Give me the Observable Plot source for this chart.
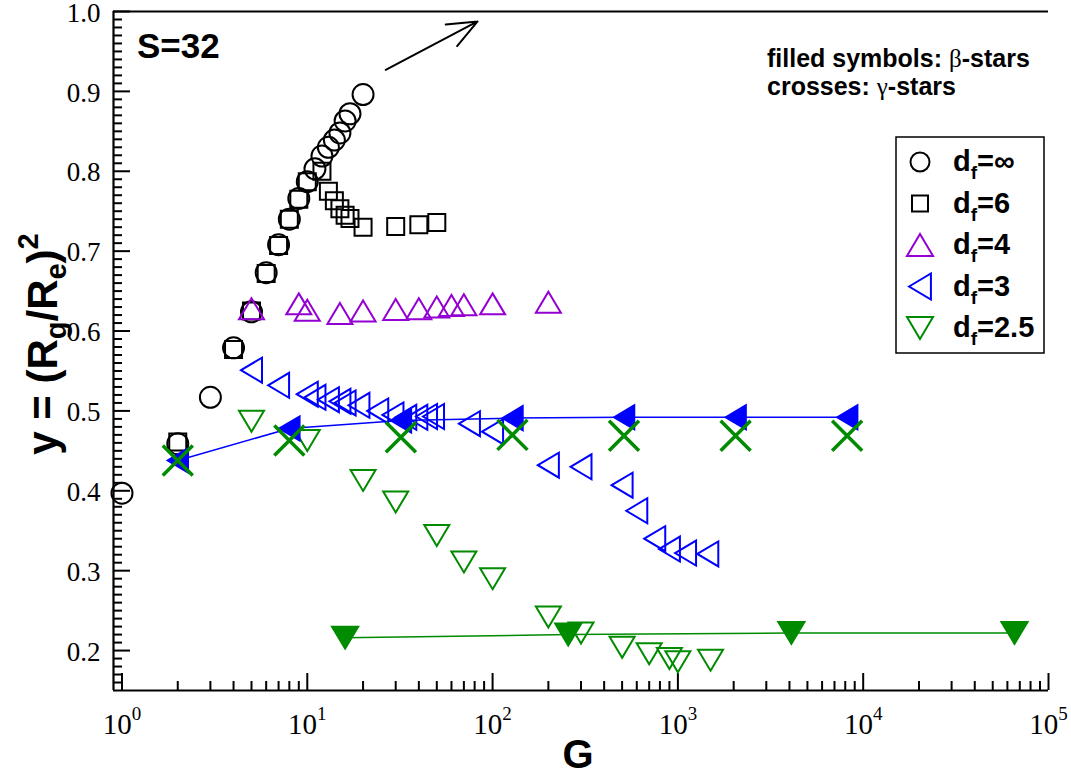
<!DOCTYPE html>
<html><head><meta charset="utf-8">
<script src="https://cdn.jsdelivr.net/npm/d3@7"></script>
<script src="https://cdn.jsdelivr.net/npm/@observablehq/plot@0.6"></script>
<style>
body{margin:0;background:#fff;}
#chart{width:1071px;height:775px;}
</style></head><body><div id="chart"></div>
<script>
// ---------------- data ----------------
const G_inf = [1,2,3,4,5,6,7,8,9,10,11,12,13,14,15,16,17,20];
const y_inf = [0.397,0.459,0.517,0.579,0.624,0.673,0.708,0.740,0.766,0.787,0.803,0.819,0.830,0.839,0.848,0.863,0.872,0.896];

const G_6 = [2,4,5,6,7,8,9,10,12,13,14,15,16,17,20,30,40,50];
const y_6 = [0.461,0.577,0.625,0.672,0.707,0.740,0.765,0.787,0.800,0.775,0.763,0.753,0.745,0.741,0.730,0.731,0.733,0.736];

const G_4 = [5,9,10,15,20,30,40,50,60,70,100,200];
const y_4 = [0.628,0.634,0.626,0.622,0.625,0.627,0.628,0.630,0.632,0.633,0.634,0.636];

const G_3 = [5,7,10,11,13,15,16,19,24,29,34,39,44,48,75,100,200,300,500,600,750,900,1100,1450];
const y_3 = [0.551,0.532,0.521,0.517,0.514,0.512,0.510,0.507,0.500,0.495,0.492,0.492,0.493,0.493,0.484,0.474,0.432,0.430,0.407,0.375,0.340,0.327,0.322,0.321];

const G_25 = [5,10,20,30,50,70,100,200,300,500,700,900,1000,1500];
const y_25 = [0.487,0.463,0.413,0.386,0.344,0.311,0.290,0.242,0.222,0.204,0.196,0.190,0.186,0.188];

const G_beta3 = [2,8,32,128,512,2048,8192];
const y_beta3 = [0.438,0.478,0.488,0.491,0.492,0.492,0.492];

const G_gamma25 = [2,8,32,128,512,2048,8192];
const y_gamma25 = [0.438,0.463,0.467,0.470,0.469,0.469,0.469];

const G_beta25 = [16,256,4096,65536];
const y_beta25 = [0.216,0.220,0.222,0.222];

const xMajor = [1,10,100,1000,10000,100000];
const xMinor = [1,10,100,1000,10000].flatMap(d => [2,3,4,5,6,7,8,9].map(k => k*d));
const yMajor = [0.2,0.3,0.4,0.5,0.6,0.7,0.8,0.9,1.0];
const yMinor = d3.range(16,100).map(i => i/100).filter(v => Math.round(v*100)%10 !== 0);

const arrowAnno = [{x1:26.5, y1:0.927, x2:83, y2:0.9875}];
const legendLabels = [["∞","circle"],["6","square"],["4","up"],["3","left"],["2.5","down"]];

// ---------------- style ----------------
const SERIF = "'Liberation Serif','DejaVu Serif',serif";
const SANS = "'Liberation Sans',Arial,sans-serif";
const VIOLET = "#9400d3", BLUE = "#0000ff", GREEN = "#008b00";

const rOf = s => Math.sqrt(s/Math.PI);
const symCircle = {draw(c,s){const r=rOf(s); c.moveTo(r,0); c.arc(0,0,r,0,2*Math.PI); c.closePath();}};
const symSquare = {draw(c,s){const r=rOf(s); c.rect(-r,-r,2*r,2*r);}};
const symUp = {draw(c,s){const r=rOf(s), h=r*0.84; c.moveTo(0,-h); c.lineTo(r,h); c.lineTo(-r,h); c.closePath();}};
const symDown = {draw(c,s){const r=rOf(s), h=r*0.84; c.moveTo(0,h); c.lineTo(r,-h); c.lineTo(-r,-h); c.closePath();}};
const symLeft = {draw(c,s){const r=rOf(s), h=r*0.84; c.moveTo(-h,0); c.lineTo(h,-r); c.lineTo(h,r); c.closePath();}};
const symX = {draw(c,s){const r=rOf(s); c.moveTo(-r,-r); c.lineTo(r,r); c.moveTo(-r,r); c.lineTo(r,-r);}};

const rows = (G, Y) => G.map((g,i) => ({G:g, y:Y[i]}));

const W = 1071, H = 775, mL = 113, mR = 23, mT = 11, mB = 85;
const pw = W - mL - mR, ph = H - mT - mB;

const svg = Plot.plot({
  width: W, height: H,
  marginLeft: mL, marginRight: mR, marginTop: mT, marginBottom: mB,
  x: {type: "log", domain: [0.9, 1e5]},
  y: {domain: [0.15, 1.0]},
  style: {background: "white", color: "black", overflow: "visible"},
  marks: [
    Plot.ruleX(xMinor, {insetTop: ph - 9, stroke: "black", strokeWidth: 2}),
    Plot.ruleX(xMajor, {insetTop: ph - 17, stroke: "black", strokeWidth: 2}),
    Plot.ruleY(yMinor, {insetRight: pw - 9, stroke: "black", strokeWidth: 2}),
    Plot.ruleY(yMajor, {insetRight: pw - 17, stroke: "black", strokeWidth: 2}),
    Plot.ruleX([0.9], {stroke: "black", strokeWidth: 2.2}),
    Plot.ruleY([0.15, 1.0], {stroke: "black", strokeWidth: 2.2}),
    Plot.axisX({ticks: xMajor, tickSize: 0, tickPadding: 23, label: null,
      tickFormat: d => String(Math.round(Math.log10(d))),
      fontSize: 29, fontFamily: SERIF}),
    Plot.axisY({ticks: yMajor, tickSize: 0, tickPadding: 13, label: null, dy: 1.5,
      tickFormat: d3.format(".1f"), fontSize: 27, fontFamily: SERIF}),
    Plot.arrow(arrowAnno, {x1:"x1", y1:"y1", x2:"x2", y2:"y2", stroke:"black", strokeWidth:2, headLength:24, headAngle:45}),
    Plot.dot(rows(G_inf, y_inf), {x:"G", y:"y", symbol: symCircle, r: 10.5, stroke:"black", strokeWidth:2, fill:"none"}),
    Plot.dot(rows(G_6, y_6), {x:"G", y:"y", symbol: symSquare, r: 8.5, stroke:"black", strokeWidth:2, fill:"none"}),
    Plot.dot(rows(G_4, y_4), {x:"G", y:"y", symbol: symUp, r: 12.5, stroke:VIOLET, strokeWidth:2, fill:"none"}),
    Plot.dot(rows(G_3, y_3), {x:"G", y:"y", symbol: symLeft, r: 12.5, stroke:BLUE, strokeWidth:2, fill:"none"}),
    Plot.dot(rows(G_25, y_25), {x:"G", y:"y", symbol: symDown, r: 12.5, stroke:GREEN, strokeWidth:2, fill:"none"}),
    Plot.line(rows(G_beta3, y_beta3), {x:"G", y:"y", stroke:BLUE, strokeWidth:1.5}),
    Plot.line(rows(G_beta25, y_beta25), {x:"G", y:"y", stroke:GREEN, strokeWidth:1.5}),
    Plot.dot(rows(G_beta3, y_beta3), {x:"G", y:"y", symbol: symLeft, r: 12.5, stroke:BLUE, strokeWidth:1.5, fill:BLUE}),
    Plot.dot(rows(G_beta25, y_beta25), {x:"G", y:"y", symbol: symDown, r: 13.5, stroke:GREEN, strokeWidth:1.5, fill:GREEN}),
    Plot.dot(rows(G_gamma25, y_gamma25), {x:"G", y:"y", symbol: symX, r: 15, stroke:GREEN, strokeWidth:3.5, fill:"none"})
  ]
});
document.getElementById("chart").appendChild(svg);

const S = d3.select(svg);
// superscript exponents for x tick labels
S.selectAll('g[aria-label="x-axis tick label"] text').each(function(){
  const t = d3.select(this); const e = t.text(); t.text("");
  t.append("tspan").text("10");
  t.append("tspan").attr("font-size", 19).attr("dy", "-0.75em").text(e);
});

// axis titles
S.append("text").attr("x", 578).attr("y", 768).attr("text-anchor","middle")
  .attr("font-family", SANS).attr("font-weight","bold").attr("font-size", 40).text("G");
const yt = S.append("text").attr("transform","translate(57,344) rotate(-90)").attr("text-anchor","middle")
  .attr("font-family", SANS).attr("font-weight","bold").attr("font-size", 42);
yt.append("tspan").text("y = (R");
yt.append("tspan").attr("font-size", 29).attr("dy", 9).text("g");
yt.append("tspan").attr("dy", -9).text("/R");
yt.append("tspan").attr("font-size", 29).attr("dy", 9).text("e");
yt.append("tspan").attr("dy", -9).text(")");
yt.append("tspan").attr("font-size", 29).attr("dy", -19).text("2");

// annotations
S.append("text").attr("x", 137).attr("y", 58).attr("text-anchor","start").attr("font-family", SANS).attr("font-weight","bold")
  .attr("font-size", 35).text("S=32");
const a1 = S.append("text").attr("x", 767).attr("y", 67).attr("text-anchor","start").attr("font-family", SANS).attr("font-weight","bold").attr("font-size", 25);
a1.append("tspan").text("filled symbols: ");
a1.append("tspan").attr("font-family", SERIF).attr("font-weight","normal").text("β");
a1.append("tspan").text("-stars");
const a2 = S.append("text").attr("x", 767).attr("y", 95).attr("text-anchor","start").attr("font-family", SANS).attr("font-weight","bold").attr("font-size", 25);
a2.append("tspan").text("crosses: ");
a2.append("tspan").attr("font-family", SERIF).attr("font-weight","normal").text("γ");
a2.append("tspan").text("-stars");

// legend
const lg = S.append("g");
lg.append("rect").attr("x", 896).attr("y", 137).attr("width", 148).attr("height", 216)
  .attr("fill","white").attr("stroke","black").attr("stroke-width",1.5);
const legSpec = {
  circle: {sym: symCircle, r: 9.5, c: "black"},
  square: {sym: symSquare, r: 8, c: "black"},
  up: {sym: symUp, r: 13, c: VIOLET},
  left: {sym: symLeft, r: 13, c: BLUE},
  down: {sym: symDown, r: 13, c: GREEN}
};
legendLabels.forEach(([lab, kind], i) => {
  const cy = 162 + i*41.5, sp = legSpec[kind];
  lg.append("path").attr("transform", `translate(920,${cy})`)
    .attr("d", d3.symbol(sp.sym, Math.PI*sp.r*sp.r)())
    .attr("fill","none").attr("stroke", sp.c).attr("stroke-width", 2);
  const t = lg.append("text").attr("x", 953).attr("y", cy + 9).attr("text-anchor","start").attr("font-family", SANS)
    .attr("font-weight","bold").attr("font-size", 29);
  t.append("tspan").text("d");
  t.append("tspan").attr("font-size", 19).attr("dy", 8).text("f");
  t.append("tspan").attr("dy", -8).text("=" + lab);
});
</script></body></html>
